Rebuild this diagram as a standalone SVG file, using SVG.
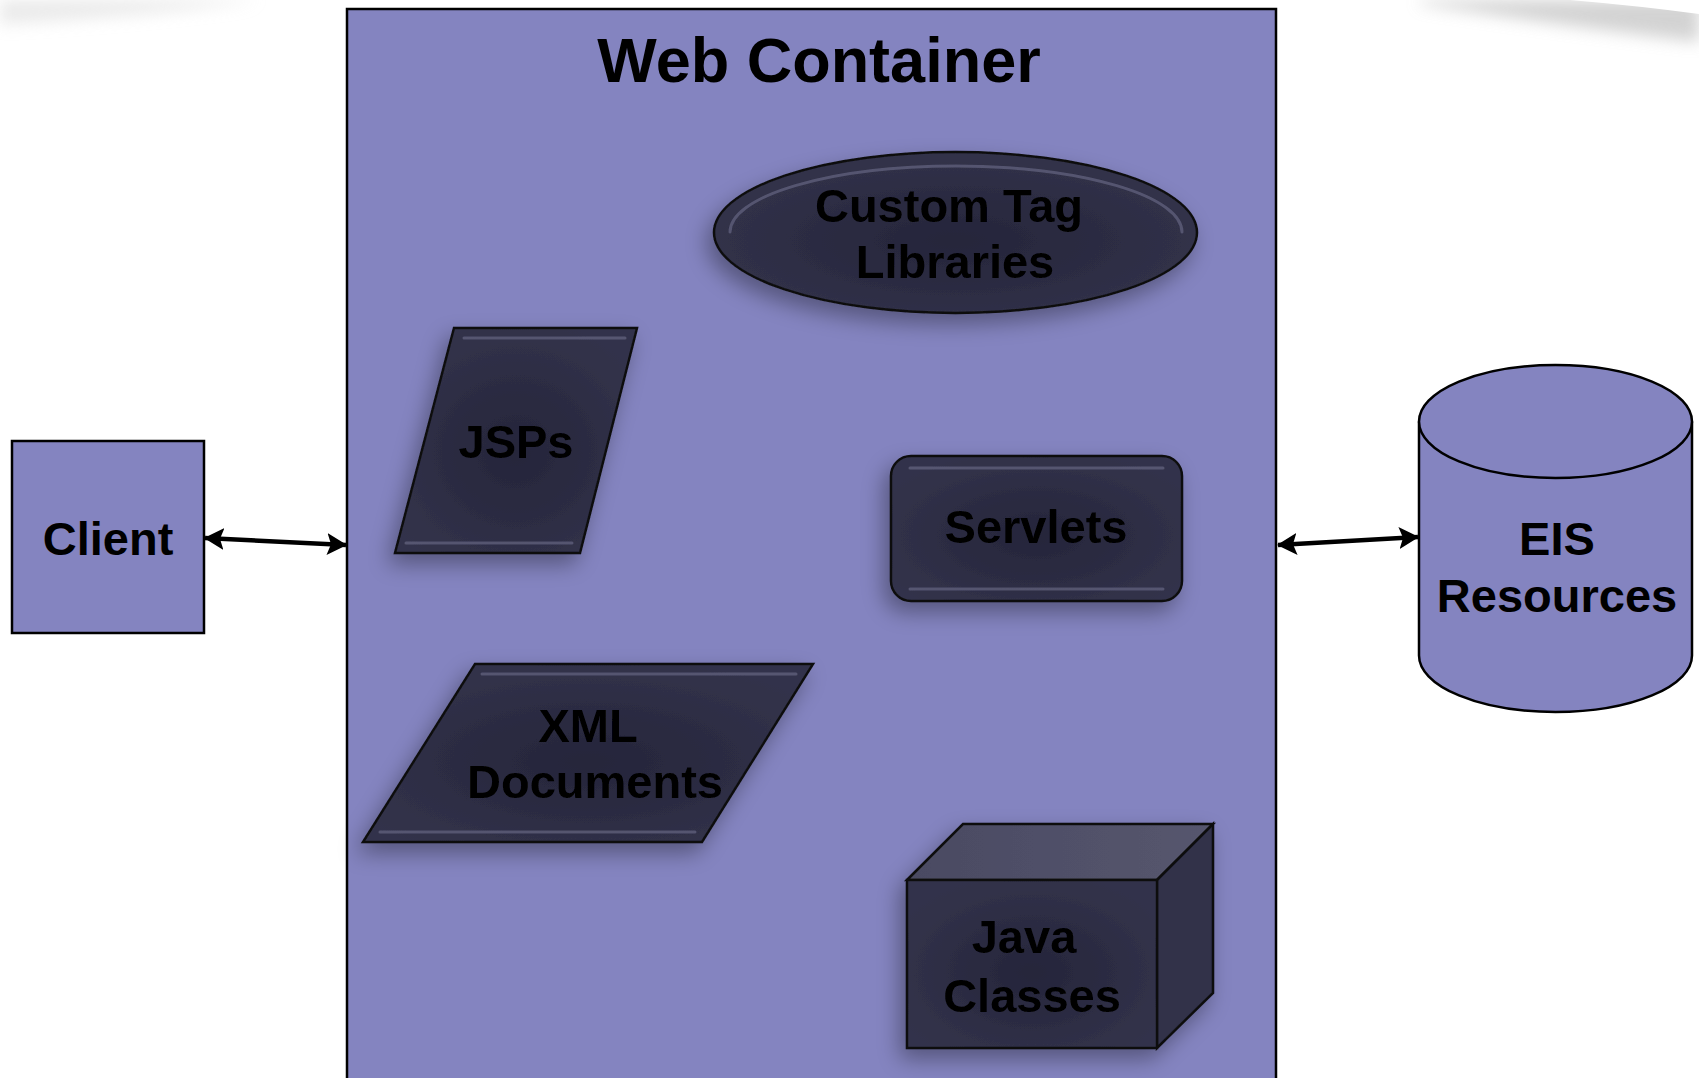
<svg xmlns="http://www.w3.org/2000/svg" width="1699" height="1078" viewBox="0 0 1699 1078">
<style>
  .lbl { font-family: "Liberation Sans", Arial, sans-serif; font-weight: bold; fill: #000; text-anchor: middle; }
  .big { font-size: 47px; }
  .title { font-size: 63px; }
  .outline { stroke: #000; stroke-width: 2.5; }
  .dark { fill: url(#darkFill); stroke: #111; stroke-width: 2.5; }
  .bevel { fill: none; stroke: #7a7a98; stroke-width: 3; stroke-opacity: 0.5; stroke-linecap: round; }
  .conn { stroke: #000; stroke-width: 4.5; fill: none; }
</style>
<defs>
  <radialGradient id="darkFill" cx="0.5" cy="0.55" r="0.6">
    <stop offset="0" stop-color="#25253a"/>
    <stop offset="1" stop-color="#33334b"/>
  </radialGradient>
  <linearGradient id="cubeTop" x1="0" y1="0" x2="1" y2="0">
    <stop offset="0" stop-color="#4a4a62"/>
    <stop offset="1" stop-color="#56566e"/>
  </linearGradient>
  <filter id="shadow" x="-30%" y="-30%" width="160%" height="170%">
    <feGaussianBlur in="SourceAlpha" stdDeviation="11"/>
    <feOffset dx="-6" dy="10" result="b"/>
    <feComponentTransfer><feFuncA type="linear" slope="0.35"/></feComponentTransfer>
    <feMerge><feMergeNode/><feMergeNode in="SourceGraphic"/></feMerge>
  </filter>
  <filter id="blurBg" x="-20%" y="-200%" width="140%" height="500%">
    <feGaussianBlur stdDeviation="8"/>
  </filter>
  <marker id="arr" viewBox="0 0 20 22" refX="19" refY="11" markerWidth="20" markerHeight="22" markerUnits="userSpaceOnUse" orient="auto-start-reverse">
    <path d="M0,0 L20,11 L0,22 L4,11 Z" fill="#000"/>
  </marker>
</defs>

<rect width="1699" height="1078" fill="#fff"/>
<g id="page-curl">
  <path d="M0,0 L260,0 Q150,16 0,24 Z" fill="#dcdcdc" opacity="0.6" filter="url(#blurBg)"/>
  <path d="M1420,0 L1699,0 L1699,42 Q1580,28 1420,4 Z" fill="#c4c4c4" opacity="0.75" filter="url(#blurBg)"/>
  <path d="M1570,0 Q1640,6 1699,14 L1699,0 Z" fill="#fff"/>
</g>

<g id="web-container">
  <rect x="347" y="9" width="929" height="1090" fill="#8484c0" class="outline"/>
  <text class="lbl title" x="819" y="82">Web Container</text>
</g>

<g id="client">
  <rect x="12" y="441" width="192" height="192" fill="#8484c0" class="outline"/>
  <text class="lbl big" x="108" y="555">Client</text>
</g>

<g id="eis-resources">
  <path d="M1419,421.5 L1419,655.5 A136.5,56.5 0 0 0 1692,655.5 L1692,421.5" fill="#8484c0" class="outline"/>
  <ellipse cx="1555.5" cy="421.5" rx="136.5" ry="56.5" fill="#8484c0" class="outline"/>
  <text class="lbl big" x="1557" y="555">EIS</text>
  <text class="lbl big" x="1557" y="612">Resources</text>
</g>

<g id="custom-tag-libraries" filter="url(#shadow)">
  <ellipse cx="955.5" cy="232.5" rx="241.5" ry="80.5" class="dark"/>
  <path d="M730,232 A226,66 0 0 1 1182,232" class="bevel"/>
  <text class="lbl big" x="949" y="222">Custom Tag</text>
  <text class="lbl big" x="955" y="278">Libraries</text>
</g>

<g id="jsps" filter="url(#shadow)">
  <polygon points="454,328 637,328 580,553 395,553" class="dark"/>
  <path d="M464,338 L625,338" class="bevel"/>
  <path d="M406,543 L572,543" class="bevel" stroke-opacity="0.3"/>
  <text class="lbl big" x="516" y="458">JSPs</text>
</g>

<g id="servlets" filter="url(#shadow)">
  <rect x="891" y="456" width="291" height="145" rx="20" ry="20" class="dark"/>
  <path d="M910,468 L1163,468" class="bevel"/>
  <path d="M910,589 L1163,589" class="bevel" stroke-opacity="0.3"/>
  <text class="lbl big" x="1036" y="543">Servlets</text>
</g>

<g id="xml-documents" filter="url(#shadow)">
  <polygon points="475,664 813,664 702,842 363,842" class="dark"/>
  <path d="M482,674 L796,674" class="bevel"/>
  <path d="M380,832 L695,832" class="bevel" stroke-opacity="0.3"/>
  <text class="lbl big" x="588" y="742">XML</text>
  <text class="lbl big" x="595" y="798">Documents</text>
</g>

<g id="java-classes" filter="url(#shadow)">
  <polygon points="907,880 963,824 1213,824 1157,880" fill="url(#cubeTop)" stroke="#111" stroke-width="2.5"/>
  <polygon points="1157,880 1213,824 1213,993 1157,1048" fill="#30304a" stroke="#111" stroke-width="2.5"/>
  <rect x="907" y="880" width="250" height="168" class="dark"/>
  <text class="lbl big" x="1024" y="953">Java</text>
  <text class="lbl big" x="1032" y="1012">Classes</text>
</g>

<g id="connectors">
  <line x1="205" y1="538" x2="346" y2="545" class="conn" marker-start="url(#arr)" marker-end="url(#arr)"/>
  <line x1="1278" y1="545" x2="1418" y2="537" class="conn" marker-start="url(#arr)" marker-end="url(#arr)"/>
</g>
</svg>
